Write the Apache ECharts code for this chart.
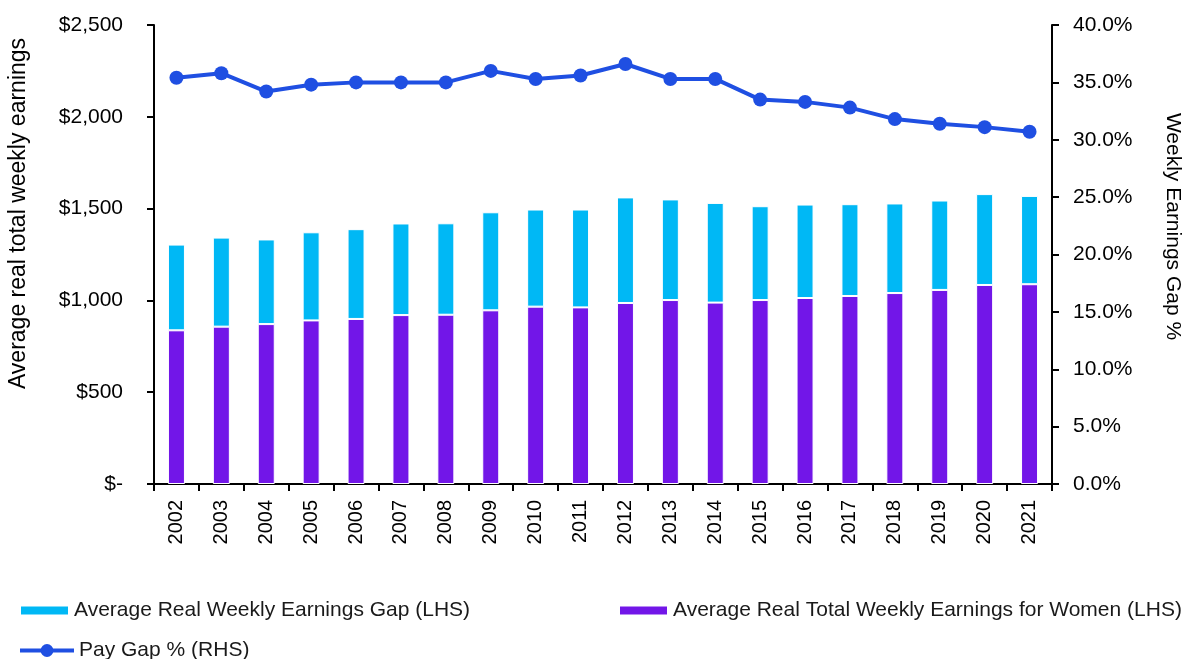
<!DOCTYPE html>
<html>
<head>
<meta charset="utf-8">
<script src="https://cdn.jsdelivr.net/npm/echarts@6/dist/echarts.min.js"></script>
<style>
  html, body { margin: 0; padding: 0; background: #fff; }
  #chart { width: 1200px; height: 659px; }
</style>
</head>
<body>
<div id="chart"></div>
<script>
const years = ['2002','2003','2004','2005','2006','2007','2008','2009','2010','2011',
               '2012','2013','2014','2015','2016','2017','2018','2019','2020','2021'];
const womenEarnings = [837, 857, 871, 891, 899, 920, 922, 946, 966, 962,
                       986, 1002, 988, 1002, 1013, 1024, 1040, 1057, 1084, 1088];
const earningsGap = [467, 485, 461, 480, 489, 499, 498, 534, 529, 533,
                     575, 548, 543, 511, 509, 500, 488, 487, 495, 481];
const payGapPct = [35.4, 35.8, 34.2, 34.8, 35.0, 35.0, 35.0, 36.0, 35.3, 35.6,
                   36.6, 35.3, 35.3, 33.5, 33.3, 32.8, 31.8, 31.4, 31.1, 30.7];

const FONT = '"Liberation Sans", Arial, sans-serif';
const chart = echarts.init(document.getElementById('chart'), null, { renderer: 'canvas' });

const legendText = { fontFamily: FONT, fontSize: 21, color: '#1a1a1a' };

chart.setOption({
  animation: false,
  backgroundColor: '#ffffff',
  textStyle: { fontFamily: FONT },
  grid: { left: 154, right: 148, top: 25, bottom: 175, containLabel: false, outerBoundsMode: 'none' },
  legend: [
    { left: 19, top: 600, padding: 0, itemWidth: 49, itemHeight: 10, icon: 'rect', textStyle: legendText,
      data: ['Average Real Weekly Earnings Gap (LHS)'] },
    { left: 618, top: 600, padding: 0, itemWidth: 49, itemHeight: 10, icon: 'rect', textStyle: legendText,
      data: ['Average Real Total Weekly Earnings for Women (LHS)'] },
    { left: 18, top: 640, padding: 0, itemWidth: 54, itemHeight: 16, textStyle: legendText,
      lineStyle: { width: 4 },
      data: ['Pay Gap % (RHS)'] }
  ],
  xAxis: {
    type: 'category',
    data: years,
    boundaryGap: true,
    axisLine: { lineStyle: { color: '#000', width: 2 } },
    axisTick: { show: true, length: 7, lineStyle: { color: '#000', width: 2 } },
    axisLabel: { rotate: 90, margin: 16, fontSize: 20, color: '#000', fontFamily: FONT }
  },
  yAxis: [
    {
      type: 'value', min: 0, max: 2500, interval: 500, position: 'left',
      name: 'Average real total weekly earnings', nameLocation: 'middle', nameGap: 124,
      nameTextStyle: { fontSize: 23, color: '#000', fontFamily: FONT, padding: [0, 0, 0, 82] },
      axisLine: { show: true, lineStyle: { color: '#000', width: 2 } },
      axisTick: { show: true, length: 7, lineStyle: { color: '#000', width: 2 } },
      splitLine: { show: false },
      axisLabel: {
        margin: 31, fontSize: 21, color: '#000', fontFamily: FONT,
        formatter: v => v === 0 ? '$-' : '$' + v.toLocaleString('en-US')
      }
    },
    {
      type: 'value', min: 0, max: 40, interval: 5, position: 'right',
      name: 'Weekly Earnings Gap %', nameLocation: 'middle', nameGap: 110, nameRotate: -90,
      nameTextStyle: { fontSize: 21, color: '#000', fontFamily: FONT, padding: [0, 56, 0, 0] },
      axisLine: { show: true, lineStyle: { color: '#000', width: 2 } },
      axisTick: { show: true, length: 7, lineStyle: { color: '#000', width: 2 } },
      splitLine: { show: false },
      axisLabel: {
        margin: 21, fontSize: 21, color: '#000', fontFamily: FONT,
        formatter: v => v.toFixed(1) + '%'
      }
    }
  ],
  series: [
    {
      name: 'Average Real Total Weekly Earnings for Women (LHS)',
      type: 'bar', stack: 'earn', yAxisIndex: 0, barWidth: 17,
      data: womenEarnings,
      itemStyle: { color: '#7216E8', borderColor: '#ffffff', borderWidth: 1 }
    },
    {
      name: 'Average Real Weekly Earnings Gap (LHS)',
      type: 'bar', stack: 'earn', yAxisIndex: 0, barWidth: 17,
      data: earningsGap,
      itemStyle: { color: '#00B8F5', borderColor: '#ffffff', borderWidth: 1 }
    },
    {
      name: 'Pay Gap % (RHS)',
      type: 'line', yAxisIndex: 1,
      data: payGapPct,
      symbol: 'circle', symbolSize: 14,
      lineStyle: { color: '#1F4FE2', width: 4 },
      itemStyle: { color: '#1F4FE2' },
      z: 5
    }
  ]
});
</script>
</body>
</html>
